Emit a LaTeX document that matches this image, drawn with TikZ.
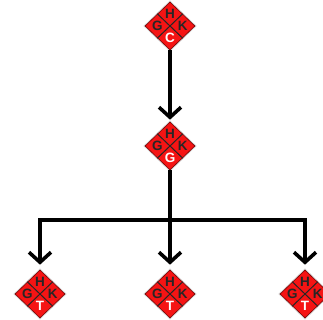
\documentclass[tikz,border=0pt]{standalone}
\usepackage{fontspec}
\setmainfont{Liberation Sans}
\usepackage{xcolor}
\usetikzlibrary{shapes.geometric,arrows.meta,calc,shadows}

\definecolor{gkred}{RGB}{245,20,20}
\definecolor{gkdark}{RGB}{120,0,0}

\tikzset{
  gkbox/.style={diamond,minimum width=50pt,minimum height=48pt,inner sep=0pt,
    fill=gkred,draw=gkdark,line width=0.6pt,
    drop shadow={shadow xshift=0pt,shadow yshift=0pt,shadow scale=1.07,opacity=0.35,fill=gray}},
  gkcross/.style={draw=black!85,line width=1pt},
  gklab/.style={font=\fontsize{13.5}{13.5}\selectfont\bfseries,inner sep=0pt,text=black!85},
  gkbot/.style={gklab,text=white},
  arr/.style={line width=3.8pt,line cap=butt,-{Straight Barb[length=10pt,width=22pt,line width=3.6pt]}}
}

% name, position, lower letter
\newcommand{\gk}[3]{%
\node[gkbox] (#1) at (#2) {};
\draw[gkcross] ($(#1.north)!0.5!(#1.west)$) -- ($(#1.south)!0.5!(#1.east)$);
\draw[gkcross] ($(#1.north)!0.5!(#1.east)$) -- ($(#1.south)!0.5!(#1.west)$);
\node[gklab] (#1-h) at ($(#1.center)!0.5!(#1.north)$) {H};
\node[gklab] (#1-g) at ($(#1.center)!0.5!(#1.west)$) {G};
\node[gklab] (#1-k) at ($(#1.center)!0.5!(#1.east)$) {K};
\node[gkbot] (#1-b) at ($(#1.center)!0.5!(#1.south)$) {#3};
}

\begin{document}
\begin{tikzpicture}[x=1pt,y=1pt]
\useasboundingbox (0,0) rectangle (323,320);
\gk{top}{170,294}{C}
\gk{mid}{170,174}{G}
\gk{left}{40,26}{T}
\gk{cen}{170,26}{T}
\gk{right}{305,26}{T}

\draw[arr,shorten >=2pt] (top.south) -- (mid.north);
\draw[arr,shorten >=5pt] (mid.south) -- ++(0,-50) -| (left.north);
\draw[arr,shorten >=5pt] (mid.south) -- (cen.north);
\draw[arr,shorten >=5pt] (mid.south) -- ++(0,-50) -| (right.north);
\end{tikzpicture}
\end{document}
